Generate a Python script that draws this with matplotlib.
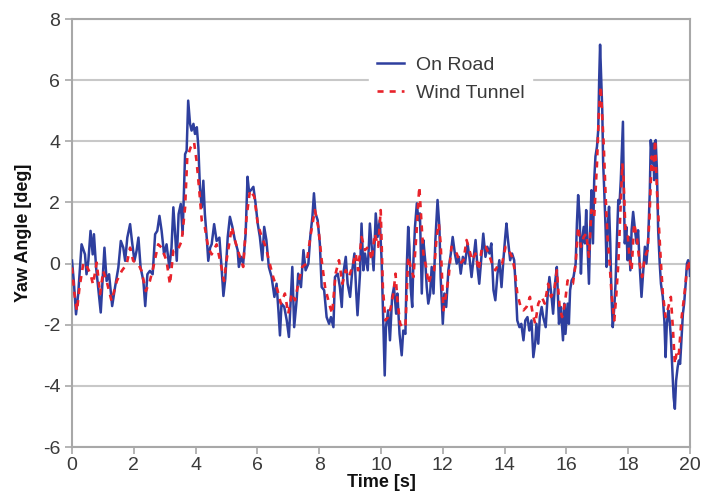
import matplotlib
matplotlib.use("Agg")
import matplotlib.pyplot as plt

t_road = [0.00,0.06,0.13,0.20,0.31,0.42,0.47,0.53,0.60,0.67,0.71,0.78,0.85,0.93,0.99,1.05,1.12,1.20,1.30,1.39,
          1.50,1.58,1.66,1.72,1.79,1.88,1.94,2.02,2.09,2.15,2.22,2.31,2.37,2.44,2.52,2.61,2.69,2.76,2.83,2.90,
          2.98,3.06,3.15,3.22,3.28,3.33,3.39,3.45,3.52,3.58,3.66,3.71,3.76,3.82,3.87,3.93,3.98,4.04,4.09,4.14,
          4.20,4.25,4.30,4.36,4.41,4.47,4.52,4.60,4.68,4.77,4.84,4.90,4.96,5.04,5.11,5.19,5.27,5.36,5.40,5.47,
          5.54,5.62,5.68,5.73,5.79,5.87,5.94,6.01,6.08,6.16,6.22,6.29,6.37,6.46,6.55,6.62,6.68,6.73,6.78,6.87,
          6.95,7.02,7.09,7.13,7.19,7.27,7.32,7.41,7.49,7.56,7.65,7.71,7.78,7.83,7.88,7.95,8.02,8.08,8.16,8.24,
          8.32,8.38,8.46,8.51,8.60,8.67,8.73,8.78,8.86,8.92,9.00,9.07,9.14,9.20,9.24,9.32,9.37,9.43,9.48,9.57,
          9.64,9.70,9.76,9.83,9.89,9.96,10.02,10.08,10.12,10.16,10.23,10.29,10.36,10.42,10.49,10.53,10.60,10.67,10.72,10.79,
          10.83,10.88,10.92,10.96,11.01,11.05,11.10,11.16,11.21,11.26,11.32,11.37,11.43,11.48,11.53,11.59,11.64,11.70,11.76,11.83,
          11.89,11.93,12.00,12.05,12.11,12.18,12.26,12.32,12.39,12.45,12.52,12.58,12.65,12.72,12.80,12.86,12.93,12.99,13.06,13.12,
          13.18,13.25,13.31,13.38,13.44,13.51,13.57,13.64,13.70,13.77,13.83,13.90,13.96,14.02,14.06,14.11,14.18,14.24,14.31,14.37,
          14.41,14.48,14.54,14.61,14.67,14.74,14.80,14.87,14.93,14.99,15.03,15.09,15.14,15.20,15.25,15.33,15.39,15.45,15.52,15.57,
          15.63,15.69,15.76,15.82,15.89,15.93,15.97,16.04,16.08,16.12,16.17,16.23,16.30,16.34,16.38,16.43,16.47,16.51,16.56,16.60,
          16.64,16.68,16.73,16.77,16.81,16.86,16.90,16.94,16.99,17.03,17.06,17.09,17.13,17.16,17.19,17.22,17.27,17.30,17.33,17.38,
          17.42,17.46,17.50,17.55,17.59,17.63,17.68,17.72,17.76,17.80,17.83,17.86,17.89,17.94,17.98,18.02,18.07,18.11,18.16,18.22,
          18.27,18.32,18.38,18.43,18.49,18.54,18.59,18.65,18.70,18.73,18.78,18.81,18.84,18.89,18.93,18.97,19.02,19.06,19.12,19.17,
          19.21,19.25,19.30,19.34,19.38,19.43,19.47,19.51,19.55,19.60,19.64,19.68,19.73,19.77,19.81,19.86,19.90,19.94,19.99,20.00]
yaw_road = [0.1,-0.6,-1.66,-1.0,0.63,0.3,-0.35,0.1,1.07,0.3,0.96,-0.13,-0.8,-1.6,-0.57,0.52,-0.57,-0.35,-1.39,-0.79,
            -0.13,0.74,0.52,0.09,0.85,1.29,0.74,0.09,0.42,0.85,-0.13,-0.57,-1.39,-0.35,-0.24,-0.35,0.96,1.07,1.56,1.07,
            0.3,0.63,-0.13,0.52,1.84,1.07,0.09,1.62,1.95,0.96,3.58,3.69,5.33,4.57,4.35,4.57,4.24,4.46,3.8,2.49,
            1.84,2.71,1.62,0.85,0.09,0.52,0.63,1.29,0.74,0.85,-0.13,-1.06,-0.5,0.87,1.53,1.2,0.77,0.44,-0.11,0.22,
            0.0,0.98,2.84,2.35,2.4,2.51,1.97,1.31,0.87,0.11,1.2,0.77,-0.11,-0.44,-1.09,-0.66,-1.53,-2.35,-1.31,-1.42,
            -1.86,-2.4,-0.98,-0.11,-2.08,-1.2,-0.33,-0.77,0.44,-0.22,0.0,0.87,1.53,2.3,1.64,1.42,0.66,-0.77,-0.87,-1.75,
            -1.97,-1.75,-2.08,-0.44,-0.33,-0.77,-1.42,-0.33,0.22,-0.66,-1.09,-0.22,0.33,-0.98,-1.69,-0.33,1.31,-0.22,0.33,-0.22,
            1.31,0.55,-0.22,1.64,0.87,1.42,0.11,-2.08,-3.66,-2.08,-1.53,-2.51,-1.09,-0.77,-1.64,-0.98,-2.3,-3.0,-2.19,-2.3,
            -0.22,1.2,0.55,-0.77,-1.42,0.11,1.2,1.97,1.42,1.64,-0.98,0.77,0.11,-0.77,-1.31,-0.98,-0.11,-0.98,0.77,2.08,
            1.2,-0.44,-1.97,-0.98,-1.42,-0.22,0.33,0.87,0.33,0.0,0.22,-0.33,0.22,0.0,0.66,0.22,-0.44,0.11,0.77,-0.11,
            -0.66,0.22,0.98,0.22,0.55,0.33,0.66,-0.87,-1.2,-0.33,0.11,-0.77,0.11,0.87,1.31,0.77,0.11,0.33,0.11,-0.98,
            -1.86,-2.08,-1.97,-2.51,-1.86,-1.75,-2.19,-1.86,-3.06,-2.6,-1.97,-2.62,-1.75,-1.42,-1.75,-2.08,-1.09,-0.44,-1.09,-1.64,
            -0.66,-0.11,-1.97,-1.42,-2.51,-1.31,-2.3,-1.31,-1.97,-0.87,-0.55,-0.44,0.0,1.31,2.24,1.53,-0.33,0.77,1.2,0.66,
            1.75,0.66,-0.66,1.09,2.4,0.66,2.73,3.5,3.83,4.37,6.0,7.16,6.0,5.03,3.28,2.51,1.09,-0.11,1.09,1.86,
            0.66,-1.09,-2.08,-1.42,-0.66,0.66,2.08,1.97,2.73,3.83,4.64,2.19,0.66,1.2,0.11,0.87,-0.22,1.09,1.69,1.09,
            0.66,1.09,-0.22,-1.09,-0.22,0.55,0.0,0.87,2.4,4.04,3.28,3.93,2.73,4.04,3.06,1.09,0.0,-0.66,-1.09,-1.86,
            -3.06,-1.97,-1.53,-1.86,-2.4,-3.5,-4.37,-4.75,-3.83,-3.39,-3.17,-3.28,-2.4,-1.64,-1.31,-0.66,0.0,0.11,-0.22,-0.4]

t_tunnel = [0.00,0.08,0.16,0.24,0.37,0.50,0.60,0.68,0.80,0.91,1.01,1.12,1.28,1.45,1.61,1.77,1.88,1.98,2.15,2.25,
            2.39,2.52,2.63,2.79,2.90,3.06,3.17,3.28,3.41,3.55,3.66,3.73,3.84,3.95,4.03,4.12,4.20,4.30,4.41,4.52,
            4.68,4.84,4.92,5.00,5.08,5.17,5.27,5.40,5.54,5.65,5.76,5.90,6.01,6.14,6.27,6.37,6.51,6.65,6.76,6.89,
            7.00,7.11,7.22,7.32,7.45,7.59,7.73,7.86,7.97,8.08,8.19,8.32,8.42,8.53,8.64,8.75,8.86,8.96,9.07,9.18,
            9.26,9.37,9.48,9.59,9.70,9.80,9.91,9.99,10.06,10.14,10.23,10.32,10.40,10.47,10.53,10.62,10.70,10.79,10.88,10.96,
            11.05,11.14,11.19,11.24,11.31,11.37,11.46,11.54,11.63,11.72,11.80,11.87,11.93,12.02,12.11,12.19,12.28,12.36,12.45,12.56,
            12.67,12.77,12.86,12.95,13.06,13.16,13.27,13.38,13.49,13.59,13.70,13.81,13.92,14.03,14.13,14.24,14.33,14.41,14.52,14.61,
            14.71,14.82,14.91,14.99,15.09,15.20,15.30,15.41,15.50,15.61,15.69,15.78,15.86,15.95,16.04,16.12,16.21,16.30,16.38,16.47,
            16.56,16.64,16.73,16.81,16.90,16.99,17.05,17.11,17.16,17.21,17.27,17.33,17.40,17.46,17.55,17.61,17.68,17.74,17.81,17.85,
            17.91,17.98,18.04,18.11,18.19,18.28,18.37,18.45,18.54,18.63,18.69,18.76,18.82,18.87,18.93,19.00,19.06,19.12,19.21,19.30,
            19.38,19.45,19.51,19.58,19.64,19.73,19.81,19.90,19.96,20.00]
yaw_tunnel = [-0.13,-1.0,-1.55,-0.8,0.03,-0.13,-0.35,-0.68,0.03,-1.0,-0.24,-0.57,-1.22,-0.57,-0.24,-0.02,0.52,0.09,-0.02,-0.24,
              -0.9,-0.57,-0.13,0.63,0.52,0.09,-0.68,0.42,0.42,0.74,1.84,3.48,3.8,3.97,3.37,2.38,1.4,1.18,0.52,0.3,
              0.63,-0.13,-0.57,0.1,0.6,1.2,0.77,0.33,-0.11,1.53,2.4,2.19,1.31,0.87,0.55,0.11,-0.44,-0.87,-1.31,-0.98,
              -1.64,-0.98,-1.2,-0.66,-0.11,0.0,0.98,1.75,1.2,0.11,-0.77,-1.31,-1.64,-0.33,0.11,-0.66,-0.22,-0.44,-0.11,0.33,
              -0.22,0.87,0.44,0.55,0.11,0.98,0.55,1.75,-0.77,-1.86,-1.75,-1.42,-0.98,-0.33,-1.2,-1.97,-2.08,-2.08,0.22,-0.11,
              -0.44,0.87,1.75,2.51,1.31,0.33,-0.11,-0.66,-0.33,-0.22,0.87,1.31,0.66,-1.53,-0.98,-0.44,0.55,0.44,0.33,0.0,
              0.11,0.77,0.44,0.11,0.33,-0.22,0.55,0.55,0.33,0.0,-0.22,0.0,0.0,0.55,0.44,0.22,-0.22,-0.98,-1.42,-1.53,
              -1.42,-1.09,-1.64,-1.97,-1.31,-1.09,-1.31,-0.66,-1.09,-0.87,-0.22,-1.42,-1.75,-1.31,-0.55,-0.66,-0.66,0.0,1.2,0.55,
              0.87,0.98,0.22,1.75,1.53,3.28,4.92,5.8,4.81,3.83,2.19,0.87,0.0,-0.98,-1.86,-1.09,0.0,1.53,3.28,2.73,
              1.09,0.98,0.22,-0.22,1.31,0.87,0.0,-0.44,0.22,0.44,1.53,3.5,3.06,4.04,2.4,1.09,0.0,-0.98,-1.75,-1.42,
              -1.09,-2.19,-3.28,-2.84,-2.95,-1.75,-1.09,-0.22,0.11,-0.3]

x_ticks = [0, 2, 4, 6, 8, 10, 12, 14, 16, 18, 20]
y_ticks = [-6, -4, -2, 0, 2, 4, 6, 8]
labels = ["On Road", "Wind Tunnel"]

plt.rcParams['font.family'] = ["Liberation Sans", "DejaVu Sans"]
plt.rcParams['axes.unicode_minus'] = False

fig = plt.figure(figsize=(7.01, 4.94), dpi=100)
ax = fig.add_axes([72/701, 1-447/494, 618/701, 428/494])

ax.plot(t_road, yaw_road, color="#2E3F9E", lw=1.8, label=labels[0], zorder=3)
ax.plot(t_tunnel, yaw_tunnel, color="#E8232B", lw=1.9, ls=(0, (2.3, 2.3)), label=labels[1], zorder=4)

ax.set_xlim(0, 20)
ax.set_ylim(-6, 8)
ax.set_xticks(x_ticks)
ax.set_yticks(y_ticks)
ax.grid(axis="y", color="#C8C8C8", lw=1.5, zorder=0)
ax.set_axisbelow(True)
for s in ax.spines.values():
    s.set_color("#A8A8A8")
    s.set_linewidth(1.5)
ax.tick_params(axis="both", colors="#A8A8A8", length=5, width=1.2, labelsize=14, labelcolor="#3A3A3A")
ax.tick_params(axis="x", pad=2)

ax.set_xlabel("Time [s]", fontsize=13, fontweight="bold", labelpad=0, color="#111111")
ax.set_ylabel("Yaw Angle [deg]", fontsize=13, fontweight="bold", labelpad=8, color="#111111")

leg = ax.legend(loc="upper left", bbox_to_anchor=(0.465, 0.953), frameon=True, fontsize=14,
                handlelength=1.4, handletextpad=0.6, labelspacing=0.5, borderpad=0.4)
leg.get_frame().set_facecolor("white")
leg.get_frame().set_edgecolor("white")
leg.get_frame().set_alpha(1.0)
for txt in leg.get_texts():
    txt.set_color("#3A3A3A")

fig.savefig("out.png", dpi=100)
